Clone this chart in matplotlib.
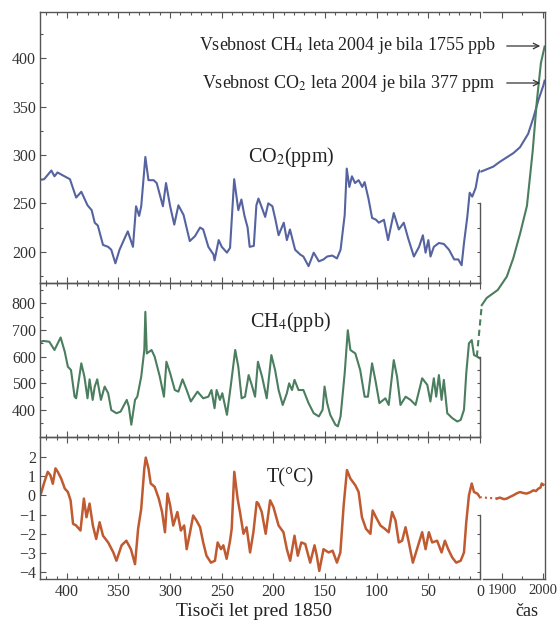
import matplotlib.pyplot as plt
from matplotlib.ticker import MultipleLocator, FixedLocator
from matplotlib.transforms import blended_transform_factory


# Ice core records, age in thousand years before 1850
co2_age = [428, 422, 415, 412, 409, 404, 397, 391, 386, 380,
           376, 373, 370, 365, 360, 357, 353, 349, 344, 341,
           336, 333, 330, 328, 324, 321, 316, 313, 307, 304,
           300, 296, 292, 287, 281, 276, 271, 268, 263, 258,
           257, 253, 250, 245, 242, 238, 234, 231, 228, 225,
           223, 219, 216.5, 214.5, 211, 208, 205, 201, 198, 195,
           190, 187, 184, 179, 174, 171, 166, 161, 156, 151.5,
           148, 143, 138.5, 135, 131, 129, 126.5, 124, 121, 117.5,
           114, 111.7, 108, 104.5, 100.6, 98, 93, 89, 83.5, 78.6,
           73.8, 69.6, 64, 59, 55.3, 52.7, 50, 47.9, 44.7, 39.8,
           35, 30, 25, 21, 17.8, 15.5, 12.3, 10, 7.5, 4.2,
           1.7, 0.3]
co2_ppm = [274, 275, 284, 278, 282, 279, 275, 256, 262, 248,
           243, 230, 227, 207, 205, 202, 188, 202, 214, 221,
           205, 247, 237, 247, 298, 274, 274, 271, 247, 271,
           247, 228, 248, 238, 211, 216, 225, 223, 205, 197,
           191, 212, 205, 199, 204, 275, 243, 254, 237, 225,
           205, 206, 248, 255, 245, 236, 250, 247, 233, 217,
           230, 212, 223, 202, 197, 195, 185, 199, 190, 192,
           195, 196, 193, 202, 238, 286, 267, 278, 271, 274,
           267, 272, 255, 235, 233, 230, 233, 212, 240, 223,
           230, 214, 195, 205, 217, 199, 212, 195, 205, 209,
           208, 202, 192, 192, 186, 209, 236, 261, 257, 266,
           281, 284]

ch4_age = [428, 423, 417, 412, 406, 402, 399, 396, 392.5, 391,
           386, 383, 380, 378, 375, 373, 370.6, 367, 363.4, 360,
           357, 352, 348, 342, 340, 337.6, 334, 331.8, 328, 325,
           324, 322.6, 318, 315, 310, 306, 303.6, 300, 295.5, 292,
           288, 284, 280, 273.5, 268, 263, 260, 257, 255, 251.8,
           249.5, 245, 241, 237, 234, 230.8, 227.5, 224, 221, 217.8,
           215, 211, 206.5, 202, 198.4, 195, 191, 187, 184.8, 182,
           179.6, 175.7, 171, 166, 161, 156, 152.4, 150.5, 148, 145,
           140, 137.6, 135, 131, 128, 125.5, 120.7, 116, 111.7, 108.5,
           104.5, 101, 97.4, 91.6, 88.4, 83.5, 80.3, 77, 72, 67.3,
           62.4, 56, 51, 48, 44.7, 42.4, 39.8, 37.2, 35, 31.7,
           26.9, 22, 18.7, 15.5, 13.3, 10.7, 8, 5.8, 2.6, 0.3]
ch4_ppb = [650, 659, 656, 625, 672, 618, 562, 550, 450, 444,
           575, 525, 444, 515, 438, 488, 515, 438, 488, 463,
           400, 388, 394, 438, 413, 345, 438, 450, 525, 625,
           768, 612, 625, 600, 525, 450, 581, 538, 475, 469,
           515, 475, 432, 469, 444, 450, 475, 407, 475, 438,
           463, 382, 500, 625, 562, 444, 450, 531, 494, 450,
           581, 525, 444, 606, 550, 475, 419, 463, 500, 475,
           513, 475, 475, 426, 388, 376, 401, 488, 426, 382,
           345, 339, 376, 538, 699, 625, 612, 550, 450, 450,
           575, 506, 426, 444, 419, 587, 525, 419, 450, 438,
           419, 519, 494, 432, 519, 450, 531, 438, 513, 388,
           370, 357, 363, 401, 538, 650, 662, 606, 600, 594]

temp_age = [425, 421.7, 418.5, 416, 413.6, 411, 408.8, 405.5, 402, 399,
            396.4, 394, 391, 386.8, 383.5, 381, 378, 374.8, 371.6, 368.3,
            365, 360, 355, 352, 347, 342.4, 338, 334, 331, 328,
            325, 323.6, 321, 318.8, 315, 311, 307.8, 305, 302.6, 300,
            297, 293, 289.6, 286.4, 284, 281, 277.7, 274.5, 271, 268,
            264.8, 260.5, 256.6, 254, 250.8, 248.5, 245.3, 242, 240.4, 237.9,
            234.7, 232.4, 229, 226, 222.6, 219.4, 216.2, 214.6, 211.3, 207.5,
            203.2, 200, 195, 190.3, 187, 183.8, 179.6, 176.4, 173, 169.2,
            164.4, 160.2, 158, 155.6, 151.5, 146.6, 142.7, 138.5, 135.2, 132,
            128.8, 125.5, 120.7, 117.5, 114.3, 110.4, 106.1, 103.9, 100.7, 96.4,
            92.2, 88.4, 85.1, 81.8, 78.6, 75.4, 72.1, 68.9, 65, 59.9,
            56, 52.7, 49.5, 46.3, 41.5, 37.2, 34, 30.8, 26.9, 23,
            18.7, 15.5, 13.3, 10.7, 8, 5.8, 2.6, 0]
temp_c = [0.1, 0.7, 1.22, 1.05, 0.6, 1.4, 1.22, 0.87, 0.35, 0.17,
          -0.26, -1.48, -1.57, -1.83, -0.17, -1.14, -0.43, -1.57, -2.27, -1.4,
          -2.1, -2.45, -2.97, -3.4, -2.6, -2.36, -2.8, -3.58, -1.74, -0.7,
          1.4, 1.96, 1.4, 0.61, 0.44, -0.17, -0.87, -1.92, 0.09, -0.52,
          -1.57, -0.87, -1.83, -1.57, -2.8, -2.0, -1.05, -1.31, -1.66, -2.45,
          -3.14, -3.5, -3.4, -2.45, -2.8, -2.6, -3.3, -2.36, -1.74, 1.22,
          -0.17, -0.87, -2.0, -1.66, -2.97, -1.92, -0.35, -0.43, -0.87, -2.0,
          -0.26, -0.61, -1.57, -1.92, -2.8, -3.4, -2.1, -3.14, -2.45, -2.53,
          -3.5, -2.6, -3.14, -3.93, -2.8, -2.97, -2.88, -3.5, -2.97, -0.52,
          1.31, 0.87, 0.52, 0.17, -1.14, -1.74, -2.0, -0.79, -1.14, -1.57,
          -1.74, -1.92, -0.87, -1.31, -2.45, -2.36, -1.66, -2.45, -3.5, -2.6,
          -1.92, -2.8, -1.92, -2.45, -2.36, -2.97, -2.36, -2.8, -3.23, -3.5,
          -3.4, -2.97, -1.4, 0.0, 0.61, 0.17, 0.09, -0.1]

# Instrumental era
co2_year = [1850, 1879, 1895, 1928, 1944, 1964, 1977, 1989, 2001, 2004]
co2_now = [283, 288, 293, 302, 308, 322, 339, 357, 372, 377]
ch4_year = [1851, 1863, 1890, 1912, 1928, 1945, 1961, 1975, 1985, 1995, 2004]
ch4_now = [793, 820, 850, 900, 970, 1065, 1165, 1370, 1555, 1700, 1762]
ch4_gap_year = [1839, 1851]
ch4_gap = [600, 793]
temp_year = [1888, 1895, 1905, 1912, 1920, 1928, 1936, 1944, 1952, 1960,
             1968, 1977, 1983, 1989, 1994, 1997, 2001]
temp_now = [-0.17, -0.12, -0.2, -0.17, -0.08, 0.0, 0.1, 0.17, 0.12, 0.09,
            0.15, 0.26, 0.22, 0.35, 0.4, 0.61, 0.55]
temp_gap_year = [1846, 1888]
temp_gap = [-0.1, -0.17]

co2_color = "#5563a0"
ch4_color = "#4b7d5f"
temp_color = "#c05a30"
frame_color = "#555555"

plt.rcParams["font.family"] = "serif"
plt.rcParams["font.serif"] = ["Liberation Serif", "DejaVu Serif"]
plt.rcParams["mathtext.fontset"] = "stix"

W, H = 557, 623
fig = plt.figure(figsize=(W / 100, H / 100), dpi=100)


def box(x0, y0, x1, y1):
    # pixel box -> figure fraction
    return [x0 / W, 1 - y1 / H, (x1 - x0) / W, (y1 - y0) / H]


def style_panel(ax, ylim, major, minor, right_bounds, right_ticks, xlabels):
    ax.set_xlim(426, 0)
    ax.set_ylim(ylim)
    ax.yaxis.set_major_locator(FixedLocator(major))
    ax.yaxis.set_minor_locator(FixedLocator(minor))
    ax.xaxis.set_major_locator(MultipleLocator(50))
    ax.xaxis.set_minor_locator(MultipleLocator(10))
    ax.tick_params(which="both", direction="in", top=True, bottom=True,
                   right=False, color=frame_color, labelsize=11.5,
                   labelcolor="#333333", width=0.8)
    ax.tick_params(which="major", length=4)
    ax.tick_params(which="minor", length=2.2)
    ax.tick_params(axis="y", pad=3)
    if not xlabels:
        ax.tick_params(axis="x", labelbottom=False)
    for s in ax.spines.values():
        s.set_color(frame_color)
        s.set_linewidth(1.0)
    ax.spines["right"].set_visible(False)
    ax.patch.set_alpha(0)

    # right spine only covers part of the range so curves can pass through
    tw = ax.twinx()
    tw.set_ylim(ylim)
    tw.yaxis.set_major_locator(FixedLocator(right_ticks))
    tw.tick_params(direction="in", length=2.5, color=frame_color,
                   labelright=False, width=0.8)
    for name in ["left", "top", "bottom"]:
        tw.spines[name].set_visible(False)
    tw.spines["right"].set_bounds(ylim[0], right_bounds)
    tw.spines["right"].set_color(frame_color)
    tw.spines["right"].set_linewidth(1.0)


ax_co2 = fig.add_axes(box(40, 12, 480, 283))
ax_ch4 = fig.add_axes(box(40, 283, 480, 437))
ax_t = fig.add_axes(box(40, 437, 480, 579))

style_panel(ax_co2, (167.6, 448), [200, 250, 300, 350, 400],
            [175, 225, 275, 325, 375, 425], 250, [175, 200, 225, 250], False)
style_panel(ax_ch4, (299, 876), [400, 500, 600, 700, 800],
            [350, 450, 550, 650, 750, 850], 600,
            [350, 400, 450, 500, 550, 600], False)
style_panel(ax_t, (-4.35, 3.03), [-4, -3, -2, -1, 0, 1, 2], [],
            -1, [-4, -3, -2, -1], True)

ax_co2.plot(co2_age, co2_ppm, color=co2_color, lw=1.5)
ax_ch4.plot(ch4_age, ch4_ppb, color=ch4_color, lw=1.5)
ax_t.plot(temp_age, temp_c, color=temp_color, lw=1.8)

ax_co2.text(0.57, 0.465, "CO$_2$(ppm)", transform=ax_co2.transAxes,
            ha="center", va="center", fontsize=14.5, color="#222222")
ax_ch4.text(0.57, 0.745, "CH$_4$(ppb)", transform=ax_ch4.transAxes,
            ha="center", va="center", fontsize=14.5, color="#222222")
ax_t.text(0.57, 0.71, "T(°C)", transform=ax_t.transAxes,
          ha="center", va="center", fontsize=14.5, color="#222222")

# Instrumental period panel
ax_r = fig.add_axes(box(483, 12, 545, 579))
ax_r.set_xlim(1854, 2005)
ax_r.set_ylim(0, 1)
ax_r.patch.set_alpha(0)
ax_r.set_yticks([])
ax_r.xaxis.set_major_locator(FixedLocator([1900, 2000]))
ax_r.xaxis.set_minor_locator(FixedLocator([1950]))
ax_r.tick_params(which="both", direction="in", top=True, bottom=True,
                 color=frame_color, labelsize=10.5, labelcolor="#333333",
                 width=0.8)
ax_r.tick_params(which="major", length=4)
ax_r.tick_params(which="minor", length=2.2)
for s in ax_r.spines.values():
    s.set_color(frame_color)
    s.set_linewidth(1.0)
ax_r.spines["left"].set_visible(False)

tr_co2 = blended_transform_factory(ax_r.transData, ax_co2.transData)
tr_ch4 = blended_transform_factory(ax_r.transData, ax_ch4.transData)
tr_t = blended_transform_factory(ax_r.transData, ax_t.transData)

ax_r.plot(co2_year, co2_now, color=co2_color, lw=1.5,
          transform=tr_co2, clip_on=False)
ax_r.plot(ch4_year, ch4_now, color=ch4_color, lw=1.5,
          transform=tr_ch4, clip_on=False)
ax_r.plot(ch4_gap_year, ch4_gap, color=ch4_color, lw=1.5,
          ls=(0, (3, 2)), transform=tr_ch4, clip_on=False)
ax_r.plot(temp_year, temp_now, color=temp_color, lw=1.8,
          transform=tr_t, clip_on=False)
ax_r.plot(temp_gap_year, temp_gap, color=temp_color, lw=1.5,
          ls=(0, (1, 1.5)), transform=tr_t, clip_on=False)

# Notes with arrows
notes = [("Vsebnost CH$_4$ leta 2004 je bila 1755 ppb", 46),
         ("Vsebnost CO$_2$ leta 2004 je bila 377 ppm", 83)]
for label, ypx in notes:
    fig.text(496 / W, 1 - ypx / H, label, ha="right", va="center",
             fontsize=13, color="#222222")
    plt.annotate("", xy=(543 / W, 1 - ypx / H),
                 xytext=(504 / W, 1 - ypx / H),
                 xycoords="figure fraction", textcoords="figure fraction",
                 arrowprops=dict(arrowstyle="->", color="#333333", lw=0.9))

fig.text(254 / W, 1 - 612 / H, "Tisoči let pred 1850", ha="center",
         va="center", fontsize=14, color="#222222")
fig.text(527 / W, 1 - 612 / H, "čas", ha="center", va="center",
         fontsize=13, color="#222222")

fig.savefig("out.png", dpi=100)
